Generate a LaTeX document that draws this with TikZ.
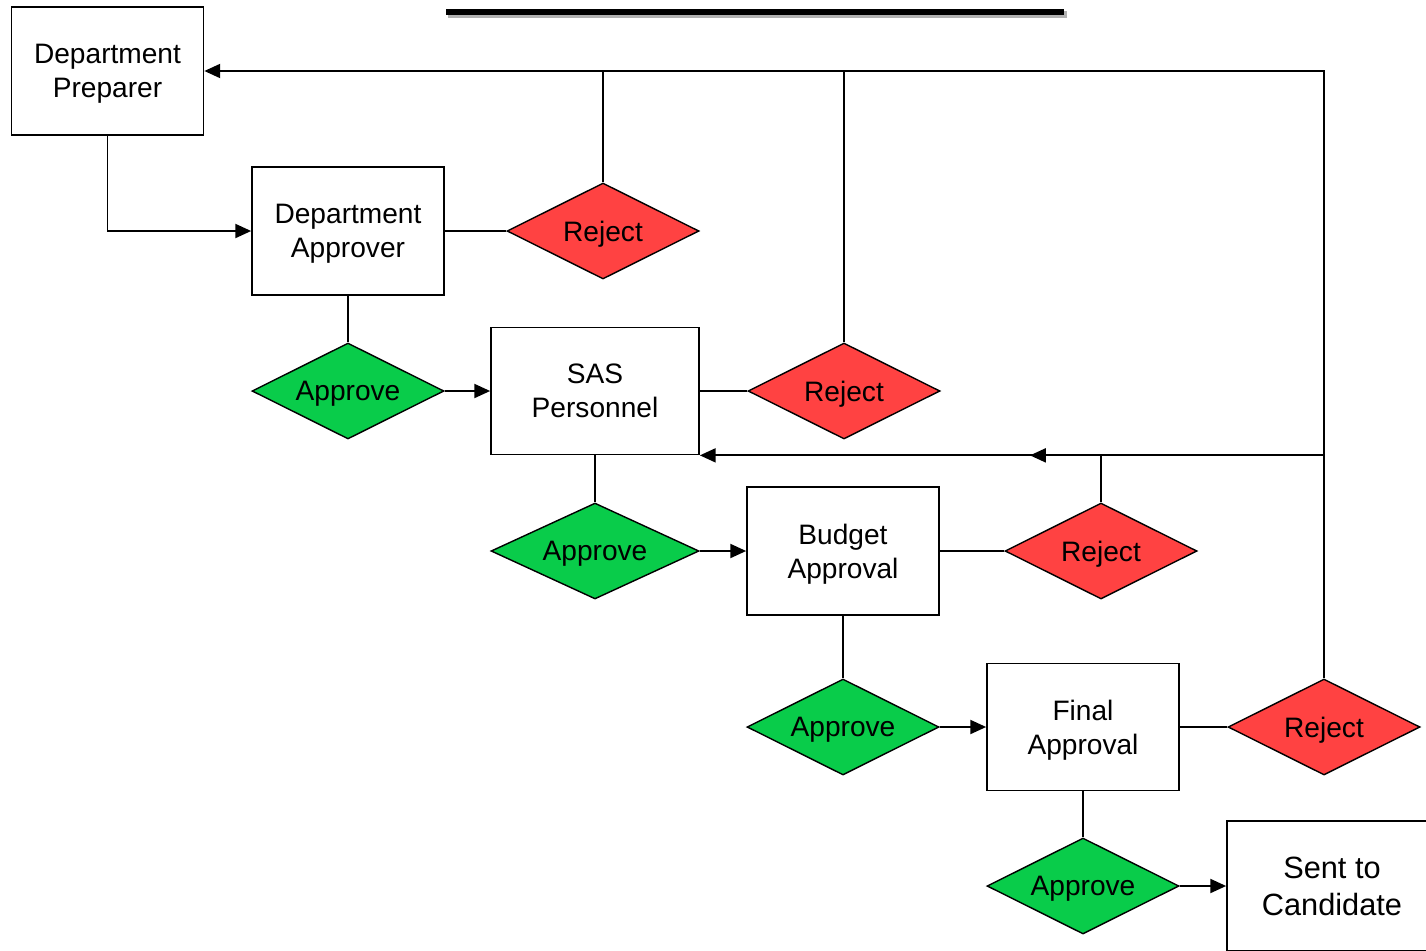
\documentclass[tikz,border=0pt]{standalone}
\usepackage{fontspec}
\setmainfont{Liberation Sans}
\usetikzlibrary{shapes.geometric,arrows.meta}

\definecolor{rejectred}{RGB}{255,66,66}
\definecolor{approvegreen}{RGB}{9,204,74}

\tikzset{
  stage/.style={draw, line width=1pt, fill=white, align=center,
    minimum width=3.84cm, minimum height=2.56cm, inner sep=0pt,
    text depth=0pt, font=\fontsize{16}{19.5}\selectfont},
  decision/.style={draw, diamond, aspect=2, line width=0.8pt,
    minimum width=3.84cm, minimum height=1.92cm, inner sep=0pt,
    text depth=0pt, font=\fontsize{16}{19.5}\selectfont},
  reject/.style={decision, fill=rejectred},
  approve/.style={decision, fill=approvegreen},
  wire/.style={line width=1pt},
  flow/.style={wire, -{Triangle[length=9pt,width=8pt]}},
}

\begin{document}
\begin{tikzpicture}[x=0.02cm, y=-0.02cm]
			\useasboundingbox (0,0) rectangle (1426,950);
			\clip (0,0) rectangle (1426,950);

			% title bar
			\fill[black!30] (448,11) rectangle (1067,18);
			\fill[black] (446,9) rectangle (1064,15);

			% stages
			\node[stage] (prep) at (107.5,71) {Department\\Preparer};
			\node[stage] (dapp) at (348,231) {Department\\Approver};
			\node[stage, minimum width=4.16cm, minimum height=2.54cm] (sas) at (595,391) {SAS\\Personnel};
			\node[stage] (budget) at (843,551) {Budget\\Approval};
			\node[stage, minimum height=2.54cm] (final) at (1083,727) {Final\\Approval};
			\node[stage, minimum width=4.2cm, minimum height=2.6cm,
				font=\fontsize{17.5}{21}\selectfont] (sent) at (1332,886) {Sent to\\Candidate};

			% decisions
			\node[reject] (rej1) at (603,231) {Reject};
			\node[reject] (rej2) at (844,391) {Reject};
			\node[reject] (rej3) at (1101,551) {Reject};
			\node[reject] (rej4) at (1324,727) {Reject};
			\node[approve] (app1) at (348,391) {Approve};
			\node[approve, minimum width=4.16cm] (app2) at (595,551) {Approve};
			\node[approve] (app3) at (843,727) {Approve};
			\node[approve] (app4) at (1083,886) {Approve};

			% forward path
			\draw[flow] (prep.south) |- (dapp.west);
			\draw[wire] (dapp.east) -- (rej1.west);
			\draw[wire] (dapp.south) -- (app1.north);
			\draw[flow] (app1.east) -- (sas.west);
			\draw[wire] (sas.east) -- (rej2.west);
			\draw[wire] (sas.south) -- (app2.north);
			\draw[flow] (app2.east) -- (budget.west);
			\draw[wire] (budget.east) -- (rej3.west);
			\draw[wire] (budget.south) -- (app3.north);
			\draw[flow] (app3.east) -- (final.west);
			\draw[wire] (final.east) -- (rej4.west);
			\draw[wire] (final.south) -- (app4.north);
			\draw[flow] (app4.east) -- (sent.west);

			% rejects back to preparer
			\draw[flow] (rej4.north) |- (prep.east);
			\draw[wire] (rej1.north) -- (rej1.north |- prep.east);
			\draw[wire] (rej2.north) -- (rej2.north |- prep.east);

			% rejects back to SAS
			\coordinate (join) at (rej4.north |- sas.south east);
			\path (rej3.north |- sas.south east) ++(-71,0) coordinate (midtip);
			\draw[flow] (join) -- (midtip);
			\draw[flow] (rej3.north) |- (sas.south east);
		\end{tikzpicture}
\end{document}
